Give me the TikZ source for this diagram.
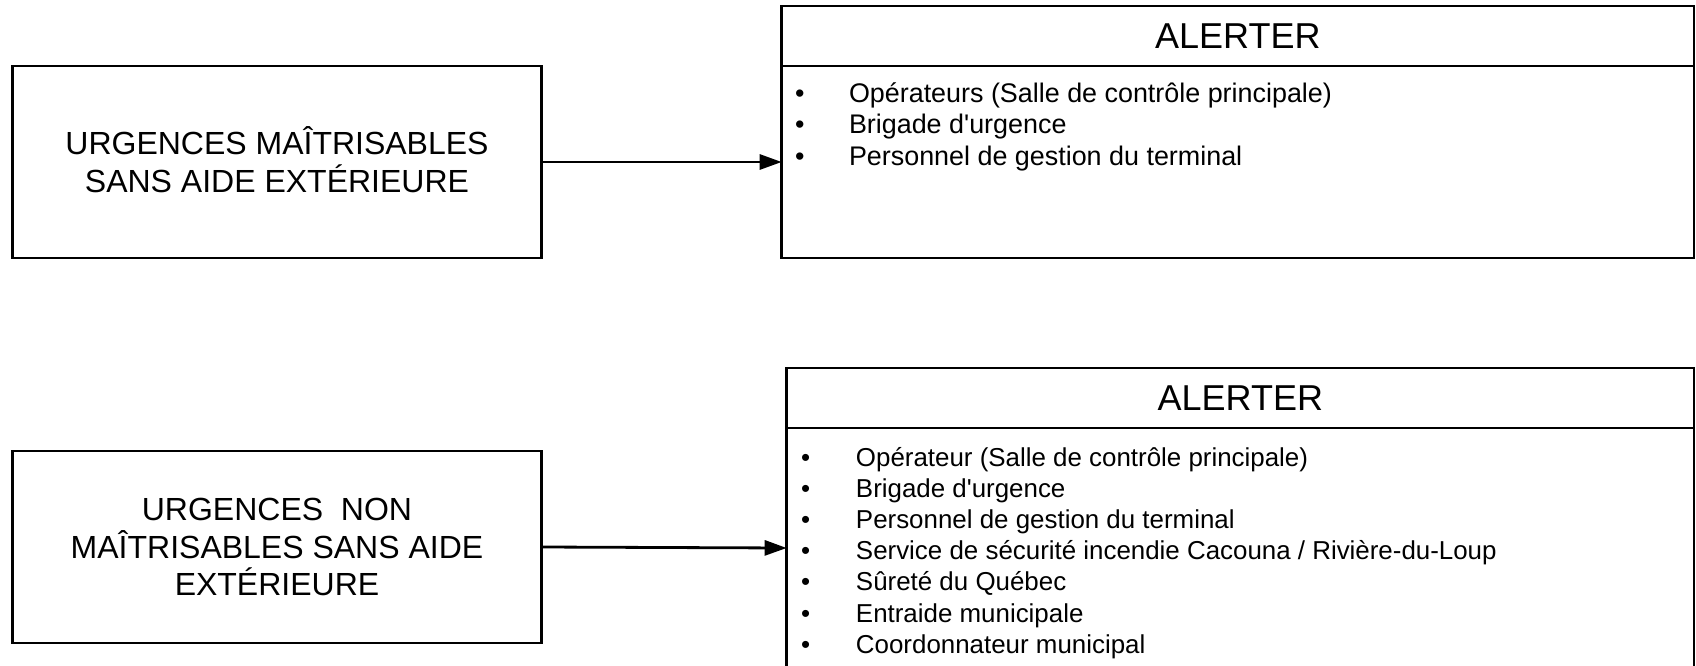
\documentclass[tikz,border=0pt]{standalone}
\usepackage{fontspec}
\setmainfont{Liberation Sans}
\usetikzlibrary{arrows.meta}
\begin{document}
\begin{tikzpicture}[x=1pt,y=-1pt,
  frame/.style={draw,line width=2.8pt,inner sep=0pt,outer sep=0pt,anchor=north west},
  casebox/.style={frame,align=center,minimum width=529pt,minimum height=192pt,
    font=\fontsize{32}{37.5}\selectfont},
  header/.style={frame,minimum height=60pt,font=\fontsize{36}{43}\selectfont},
  itemline/.style={anchor=base west,inner sep=0pt,outer sep=0pt},
  link/.style={line width=2.8pt,-{Triangle[length=22pt,width=15pt]}}]
\clip (0,0) rectangle (1696,666);

% situations
\node[casebox] (b1) at (12.5,66) {URGENCES MAÎTRISABLES\\SANS AIDE EXTÉRIEURE\rule[-5pt]{0pt}{5pt}};
\node[casebox] (b2) at (12.5,451) {URGENCES\ \ NON\\MAÎTRISABLES SANS AIDE\\EXTÉRIEURE};

% who to alert, case 1
\node[header,minimum width=912.3pt] (h1) at (781.7,6) {ALERTER};
\node[frame,minimum width=912.3pt,minimum height=192pt] (p1) at (781.7,66) {};
\foreach \t [count=\i] in {
  Opérateurs (Salle de contrôle principale),
  Brigade d\textquotesingle urgence,
  Personnel de gestion du terminal}
  \node[itemline,font=\fontsize{26.9}{31.5}\selectfont] (p1i\i)
    at (795,{102.5+31.3*(\i-1)}) {\makebox[54pt][l]{•}\t};

% who to alert, case 2
\node[header,minimum width=907.3pt] (h2) at (786.7,368) {ALERTER};
\node[frame,minimum width=907.3pt,minimum height=320pt] (p2) at (786.7,428) {};
\foreach \t [count=\i] in {
  Opérateur (Salle de contrôle principale),
  Brigade d\textquotesingle urgence,
  Personnel de gestion du terminal,
  Service de sécurité incendie Cacouna / Rivière-du-Loup,
  Sûreté du Québec,
  Entraide municipale,
  Coordonnateur municipal}
  \node[itemline,font=\fontsize{25.9}{31}\selectfont] (p2i\i)
    at (801,{466+31.2*(\i-1)}) {\makebox[55pt][l]{•}\t};

% connectors
\draw[link] (b1.east) -- (b1.east -| p1.west);
\coordinate (t2) at (786.7,548);
\draw[link] (b2.east) -- (t2);
\end{tikzpicture}
\end{document}
